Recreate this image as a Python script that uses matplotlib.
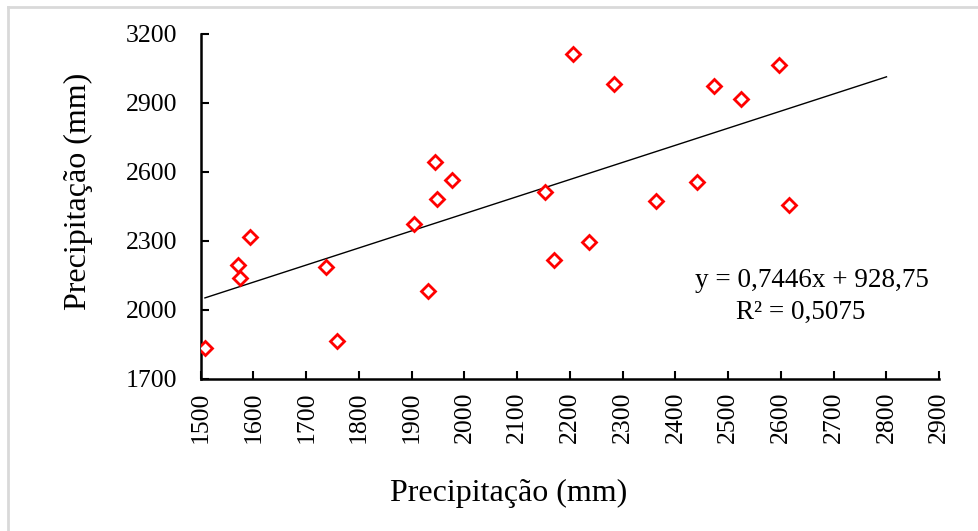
import matplotlib.pyplot as plt
from matplotlib.lines import Line2D

# precipitation pairs (mm)
precip_x = [1508, 1571, 1574, 1593, 1737, 1759, 1905, 1931, 1945, 1948, 1976,
            2153, 2170, 2206, 2237, 2284, 2364, 2441, 2473, 2524, 2597, 2616]
precip_y = [1834, 2194, 2139, 2317, 2184, 1866, 2372, 2083, 2645, 2483, 2566,
            2511, 2217, 3112, 2295, 2984, 2472, 2557, 2973, 2917, 3064, 2457]

# linear trend shown on the chart
slope, intercept = 0.7446, 928.75
trend_x = [min(precip_x), 2800]
trend_y = [slope * v + intercept for v in trend_x]

x_ticks = list(range(1500, 3000, 100))
y_ticks = list(range(1700, 3300, 300))

plt.rcParams['font.family'] = ['Liberation Serif', 'DejaVu Serif']

fig = plt.figure(figsize=(9.79, 5.31), dpi=100)
ax = fig.add_axes([0.205, 0.2868, 0.7544, 0.6492])

ax.plot(trend_x, trend_y, color='black', lw=1.0, zorder=2)
ax.plot(precip_x, precip_y, linestyle='none', marker='D', ms=7.2,
        mfc='white', mec='#ff0000', mew=2.0, zorder=3)

ax.set_xlim(1500, 2900)
ax.set_ylim(1700, 3200)
ax.set_xticks(x_ticks)
ax.set_yticks(y_ticks)
ax.tick_params(direction='in', length=6, width=1.5, labelsize=18.5)
ax.tick_params(axis='x', labelrotation=90, pad=9)
ax.tick_params(axis='y', pad=17)
for side in ['top', 'right']:
    ax.spines[side].set_visible(False)
for side in ['left', 'bottom']:
    ax.spines[side].set_linewidth(1.8)

# axis titles placed where the source has them
fig.text(509 / 979, 1 - 493 / 531, 'Precipitação (mm)', fontsize=23,
         ha='center', va='center')
fig.text(78 / 979, 1 - 191 / 531, 'Precipitação (mm)', fontsize=23,
         ha='center', va='center', rotation=90)

# trendline equation, two lines as Excel draws them
fig.text(812 / 979, 1 - 287 / 531, 'y = 0,7446x + 928,75', fontsize=19.5,
         ha='center', va='baseline')
fig.text(801 / 979, 1 - 319 / 531, 'R² = 0,5075', fontsize=19.5,
         ha='center', va='baseline')

# light grey frame on top and left, as in the source screenshot
fig.add_artist(Line2D([8.5 / 979, 1], [1 - 6.5 / 531] * 2, color='#d9d9d9', lw=2))
fig.add_artist(Line2D([8.5 / 979] * 2, [0, 1 - 6.5 / 531], color='#d9d9d9', lw=2))

fig.savefig('out.png', dpi=100, facecolor='white')
